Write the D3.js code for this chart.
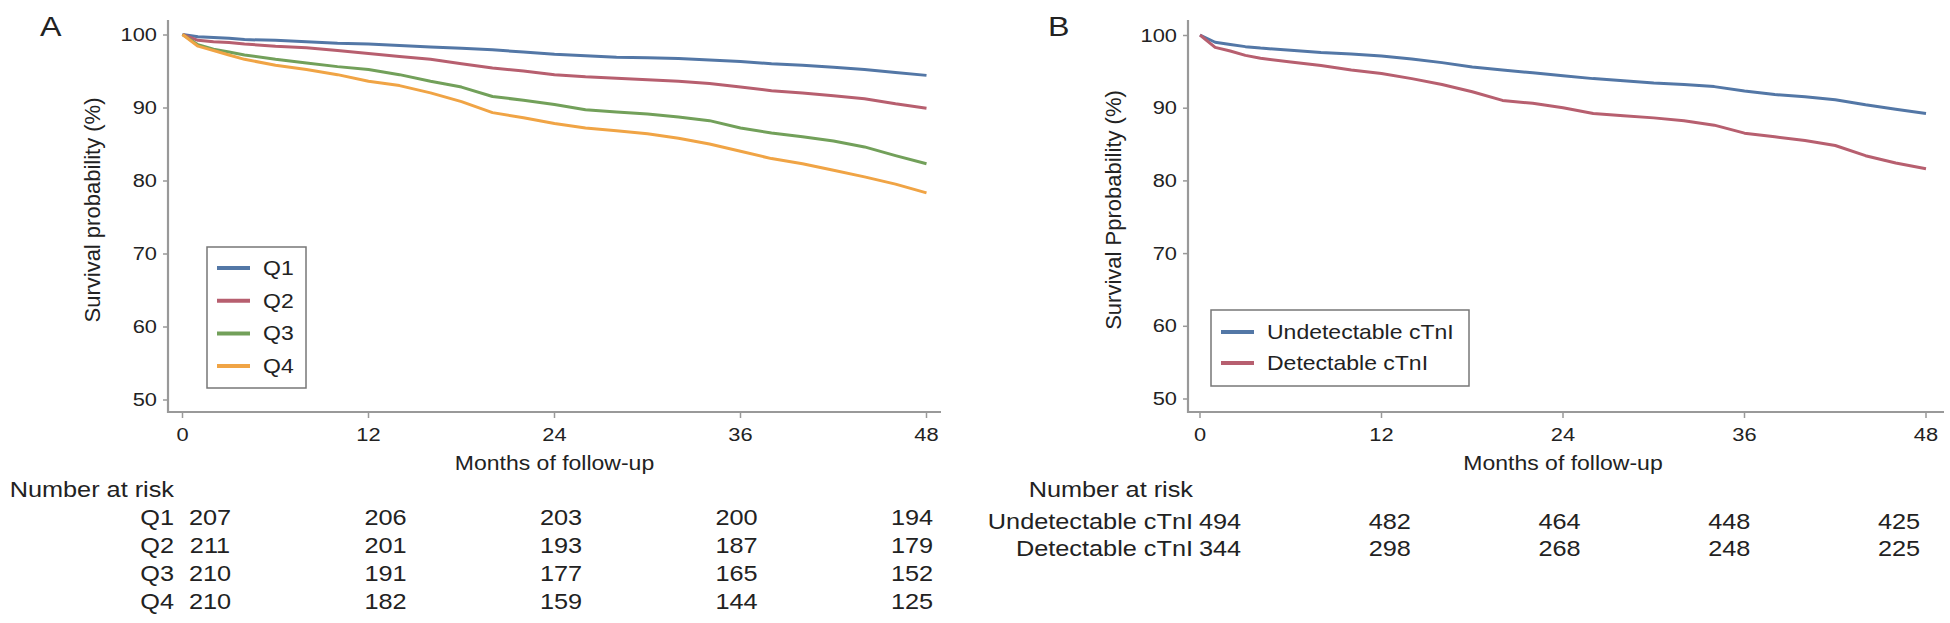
<!DOCTYPE html>
<html>
<head>
<meta charset="utf-8">
<script src="https://cdn.jsdelivr.net/npm/d3@7"></script>
<style>
  body { margin: 0; background: #fff; }
  svg text { font-family: "Liberation Sans", Arial, Helvetica, sans-serif; fill: #222; }
</style>
</head>
<body>
<div id="chart"></div>
<script>
// data
var months = [0, 1, 2, 3, 4, 6, 8, 10, 12, 14, 16, 18, 20, 22, 24, 26, 28, 30, 32, 34, 36, 38, 40, 42, 44, 46, 48];

var survQ1 = [100, 99.7, 99.6, 99.5, 99.3, 99.2, 99.0, 98.8, 98.7, 98.5, 98.3, 98.1, 97.9, 97.6, 97.3, 97.1, 96.9, 96.8, 96.7, 96.5, 96.3, 96.0, 95.8, 95.5, 95.2, 94.8, 94.4];
var survQ2 = [100, 99.2, 99.0, 98.9, 98.7, 98.4, 98.2, 97.8, 97.4, 97.0, 96.6, 96.0, 95.4, 95.0, 94.5, 94.2, 94.0, 93.8, 93.6, 93.3, 92.8, 92.3, 92.0, 91.6, 91.2, 90.5, 89.9];
var survQ3 = [100, 98.6, 98.0, 97.6, 97.2, 96.6, 96.1, 95.6, 95.2, 94.5, 93.6, 92.8, 91.5, 91.0, 90.4, 89.7, 89.4, 89.1, 88.7, 88.2, 87.2, 86.5, 86.0, 85.4, 84.6, 83.4, 82.3];
var survQ4 = [100, 98.4, 97.8, 97.2, 96.6, 95.8, 95.2, 94.5, 93.6, 93.0, 92.0, 90.8, 89.3, 88.6, 87.8, 87.2, 86.8, 86.4, 85.8, 85.0, 84.0, 83.0, 82.3, 81.4, 80.5, 79.5, 78.3];

var survUnd = [100, 99.0, 98.7, 98.4, 98.2, 97.9, 97.6, 97.4, 97.1, 96.7, 96.2, 95.6, 95.2, 94.8, 94.4, 94.0, 93.7, 93.4, 93.2, 92.9, 92.3, 91.8, 91.5, 91.1, 90.4, 89.8, 89.2];
var survDet = [100, 98.3, 97.8, 97.2, 96.8, 96.3, 95.8, 95.2, 94.7, 94.0, 93.2, 92.2, 91.0, 90.6, 90.0, 89.2, 88.9, 88.6, 88.2, 87.6, 86.5, 86.0, 85.5, 84.8, 83.4, 82.4, 81.6];

var riskTimes = [0, 12, 24, 36, 48];
var riskQ1 = [207, 206, 203, 200, 194];
var riskQ2 = [211, 201, 193, 187, 179];
var riskQ3 = [210, 191, 177, 165, 152];
var riskQ4 = [210, 182, 159, 144, 125];
var riskUnd = [494, 482, 464, 448, 425];
var riskDet = [344, 298, 268, 248, 225];

var xTicks = [0, 12, 24, 36, 48];
var yTicks = [50, 60, 70, 80, 90, 100];

var colBlue = "#5377a6", colRed = "#b75f6f", colGreen = "#72a05a", colOrange = "#f0a445";
var SX = 1.15; // the figure's text is a bit stretched sideways

var svg = d3.select("#chart").append("svg")
  .attr("width", 1950)
  .attr("height", 623);

function label(sel, x, y, s, size, anchor) {
  return sel.append("text")
    .attr("transform", `translate(${x},${y}) scale(${SX},1)`)
    .attr("text-anchor", anchor || "start")
    .attr("dominant-baseline", "central")
    .style("font-size", size + "px")
    .text(s);
}

function drawPanel(p) {
  var g = svg.append("g");

  var x = d3.scaleLinear().domain([0, 48]).range([p.x0, p.x48]);
  var y = d3.scaleLinear().domain([50, 100]).range([p.y50, p.y100]);
  var xRisk = d3.scaleLinear().domain([0, 48]).range([p.r0, p.r48]);

  // axes
  var leftAxis = d3.axisLeft(y).tickValues(yTicks).tickSize(5).tickPadding(5);
  var bottomAxis = d3.axisBottom(x).tickValues(xTicks).tickSize(6).tickPadding(10);

  var ya = g.append("g").attr("transform", `translate(${p.axisX},0)`).call(leftAxis);
  var xa = g.append("g").attr("transform", `translate(0,${p.axisY})`).call(bottomAxis);
  [ya, xa].forEach(function(a) {
    a.select(".domain").remove();
    a.selectAll("line").attr("stroke", "#999").attr("stroke-width", 1.5);
    a.selectAll("text").style("font-size", "19px").style("font-family", null)
      .attr("fill", "#222")
      .attr("transform", `scale(${SX},1)`);
  });
  ya.selectAll("text").attr("x", -11 / SX);
  xa.selectAll("text").each(function(d) {
    d3.select(this).attr("transform", `translate(${x(d)},0) scale(${SX},1)`);
  });
  xa.selectAll(".tick").attr("transform", null);
  xa.selectAll(".tick line").attr("x1", d => x(d)).attr("x2", d => x(d));

  g.append("path")
    .attr("d", `M${p.axisX},20 V${p.axisY} H${p.axisEnd}`)
    .attr("fill", "none")
    .attr("stroke", "#999")
    .attr("stroke-width", 2.2);

  // curves
  var line = d3.line()
    .x((d, i) => x(months[i]))
    .y(d => y(d));

  p.series.forEach(function(s) {
    g.append("path")
      .datum(s.values)
      .attr("d", line)
      .attr("fill", "none")
      .attr("stroke", s.color)
      .attr("stroke-width", 3)
      .attr("stroke-linejoin", "round");
  });

  // axis titles
  label(g, (p.x0 + p.x48) / 2 - 0, p.axisY + 51, "Months of follow-up", 20, "middle");
  g.append("text")
    .attr("transform", `translate(${p.titleX},${p.titleY}) rotate(-90)`)
    .attr("text-anchor", "middle")
    .attr("dominant-baseline", "central")
    .style("font-size", "22px")
    .text(p.yTitle);

  label(g, p.letterX, 26, p.letter, 28, "start");

  // legend
  var lg = g.append("g");
  lg.append("rect")
    .attr("x", p.leg.x).attr("y", p.leg.y)
    .attr("width", p.leg.w).attr("height", p.leg.h)
    .attr("fill", "#fff").attr("stroke", "#777").attr("stroke-width", 1.5);
  p.series.forEach(function(s, i) {
    var yy = p.leg.y + p.leg.first + i * p.leg.step;
    lg.append("line")
      .attr("x1", p.leg.x + 10).attr("x2", p.leg.x + 43)
      .attr("y1", yy).attr("y2", yy)
      .attr("stroke", s.color).attr("stroke-width", 4);
    label(lg, p.leg.x + 56, yy, s.name, 20, "start");
  });

  // number at risk
  label(g, p.riskLabelX, 490, "Number at risk", 22, "end");
  p.series.forEach(function(s, i) {
    var yy = p.riskY0 + i * p.riskStep;
    label(g, p.riskLabelX, yy, s.name, 22, "end");
    s.risk.forEach(function(n, j) {
      label(g, xRisk(riskTimes[j]), yy, n, 22, "middle");
    });
  });
}

drawPanel({
  letter: "A", letterX: 40,
  axisX: 168, axisY: 412, axisEnd: 941,
  x0: 182.5, x48: 926.5, y100: 34.5, y50: 399.5,
  r0: 210, r48: 912,
  titleX: 92, titleY: 210, yTitle: "Survival probability (%)",
  leg: { x: 207, y: 247, w: 99, h: 141, first: 21, step: 32.7 },
  riskLabelX: 174, riskY0: 518, riskStep: 28,
  series: [
    { name: "Q1", values: survQ1, color: colBlue, risk: riskQ1 },
    { name: "Q2", values: survQ2, color: colRed, risk: riskQ2 },
    { name: "Q3", values: survQ3, color: colGreen, risk: riskQ3 },
    { name: "Q4", values: survQ4, color: colOrange, risk: riskQ4 }
  ]
});

drawPanel({
  letter: "B", letterX: 1048,
  axisX: 1188, axisY: 412, axisEnd: 1944,
  x0: 1200, x48: 1926, y100: 35, y50: 398.5,
  r0: 1220, r48: 1899,
  titleX: 1113, titleY: 210, yTitle: "Survival Pprobability (%)",
  leg: { x: 1211, y: 310, w: 258, h: 76, first: 22, step: 31 },
  riskLabelX: 1193, riskY0: 522, riskStep: 27,
  series: [
    { name: "Undetectable cTnI", values: survUnd, color: colBlue, risk: riskUnd },
    { name: "Detectable cTnI", values: survDet, color: colRed, risk: riskDet }
  ]
});
</script>
</body>
</html>
